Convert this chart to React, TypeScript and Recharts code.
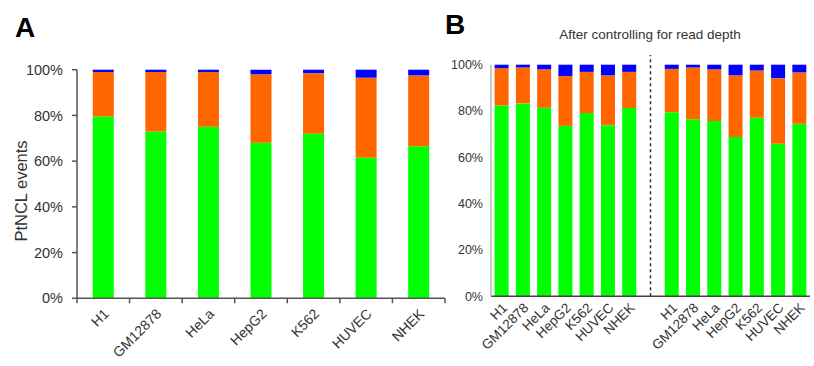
import React from 'react';
import { BarChart, Bar, XAxis, YAxis, ReferenceLine } from 'recharts';

// ---- data ----
const cellLines = ['H1', 'GM12878', 'HeLa', 'HepG2', 'K562', 'HUVEC', 'NHEK'];
const yTicks = [0, 20, 40, 60, 80, 100];

// Panel A
const aGreen = [79.5, 73, 75, 68, 72, 61.5, 66.5];
const aOrange = [19.5, 26, 24, 30, 26.5, 35, 31];
const aBlue = [1, 1, 1, 2, 1.5, 3.5, 2.5];

// Panel B, left group
const b1Green = [82.4, 83.3, 81.4, 73.6, 79.1, 73.9, 81.3];
const b1Orange = [16.1, 15.5, 16.6, 21.5, 17.8, 21.5, 15.6];
const b1Blue = [1.5, 1.2, 2.0, 4.9, 3.1, 4.6, 3.1];

// Panel B, right group
const b2Green = [79.5, 76.5, 75.7, 68.8, 77.1, 65.9, 74.5];
const b2Orange = [18.7, 22.3, 22.3, 26.6, 20.4, 28.3, 22.2];
const b2Blue = [1.8, 1.2, 2.0, 4.6, 2.5, 5.8, 3.3];

const panelTitle = 'After controlling for read depth';
const yLabel = 'PtNCL events';

// ---- tables ----
const dataA = cellLines.map((c, i) => ({ id: c, green: aGreen[i], orange: aOrange[i], blue: aBlue[i] }));
const dataB = [
  ...cellLines.map((c, i) => ({ id: c + '|1', green: b1Green[i], orange: b1Orange[i], blue: b1Blue[i] })),
  { id: 'gap', green: null, orange: null, blue: null },
  ...cellLines.map((c, i) => ({ id: c + '|2', green: b2Green[i], orange: b2Orange[i], blue: b2Blue[i] })),
];

const GREEN = '#00ff00';
const ORANGE = '#ff6600';
const BLUE = '#0000ff';
const TXT = '#333333';
const FONT = '"Liberation Sans", Arial, sans-serif';

// panel A geometry (layout only)
const A_W = 450, A_H = 366;
const A_M = { top: 69.7, right: 5, bottom: 7.7, left: 17 };
const A_YW = 60;
const A_BAND = (A_W - A_M.left - A_M.right - A_YW) / cellLines.length;

const TickA = (props: any) => {
  const { x, y, payload, index } = props;
  const last = index === cellLines.length - 1;
  return (
    <g>
      <line x1={x - A_BAND / 2} x2={x - A_BAND / 2} y1={y} y2={y + 5} stroke="#555" strokeWidth={1.5} />
      {last && <line x1={x + A_BAND / 2} x2={x + A_BAND / 2} y1={y} y2={y + 5} stroke="#555" strokeWidth={1.5} />}
      <g transform={`translate(${x + 3},${y + 13})`}>
        <text textAnchor="end" transform="rotate(-45)" fontSize={14} fill={TXT} dy="0.35em" fontFamily={FONT}>
          {payload.value}
        </text>
      </g>
    </g>
  );
};

const TickB = (props: any) => {
  const { x, y, payload } = props;
  const label = payload.value === 'gap' ? '' : String(payload.value).split('|')[0];
  return (
    <g transform={`translate(${x + 3},${y + 9})`}>
      <text textAnchor="end" transform="rotate(-45)" fontSize={13.5} fill={TXT} dy="0.35em" fontFamily={FONT}>
        {label}
      </text>
    </g>
  );
};

const pct = (v: number) => `${v}%`;

export default function App() {
  return (
    <div style={{ position: 'absolute', left: 0, top: 0, width: 814, height: 366, background: '#fff', fontFamily: FONT, overflow: 'hidden' }}>
      <div style={{ position: 'absolute', left: 0, top: 0 }}>
        <BarChart width={A_W} height={A_H} data={dataA} margin={A_M} barCategoryGap="30%">
          <XAxis
            dataKey="id"
            height={60}
            tickLine={false}
            tickSize={0}
            tickMargin={0}
            interval={0}
            axisLine={{ stroke: '#555', strokeWidth: 1.5 }}
            tick={<TickA />}
          />
          <YAxis
            width={A_YW}
            domain={[0, 100]}
            ticks={yTicks}
            tickFormatter={pct}
            tickSize={5}
            tickMargin={9}
            axisLine={{ stroke: '#555', strokeWidth: 1.5 }}
            tickLine={{ stroke: '#555', strokeWidth: 1.5 }}
            tick={{ fill: TXT, fontSize: 14.5 }}
          />
          <Bar dataKey="green" stackId="s" fill={GREEN} isAnimationActive={false} />
          <Bar dataKey="orange" stackId="s" fill={ORANGE} isAnimationActive={false} />
          <Bar dataKey="blue" stackId="s" fill={BLUE} isAnimationActive={false} />
        </BarChart>
      </div>
      <div style={{ position: 'absolute', left: 440, top: 0 }}>
        <BarChart width={374} height={366} data={dataB} margin={{ top: 64.7, right: 4, bottom: 9.7, left: 0 }} barCategoryGap="17%">
          <XAxis
            dataKey="id"
            height={60}
            tickLine={false}
            tickSize={0}
            tickMargin={0}
            interval={0}
            axisLine={{ stroke: '#444', strokeWidth: 1.5 }}
            tick={<TickB />}
          />
          <YAxis
            width={51}
            domain={[0, 100]}
            ticks={yTicks}
            tickFormatter={pct}
            tickSize={0}
            tickMargin={8}
            tickLine={false}
            axisLine={{ stroke: '#bbb', strokeWidth: 1.5 }}
            tick={{ fill: TXT, fontSize: 12.5 }}
          />
          <Bar dataKey="green" stackId="s" fill={GREEN} isAnimationActive={false} />
          <Bar dataKey="orange" stackId="s" fill={ORANGE} isAnimationActive={false} />
          <Bar dataKey="blue" stackId="s" fill={BLUE} isAnimationActive={false} />
          <ReferenceLine
            segment={[{ x: 'gap', y: 0 }, { x: 'gap', y: 104.2 }]}
            ifOverflow="visible"
            stroke="#333"
            strokeWidth={1.5}
            strokeDasharray="3 3"
          />
        </BarChart>
      </div>
      <div style={{ position: 'absolute', left: 15, top: 14.4, fontSize: 28, fontWeight: 'bold', lineHeight: 1, color: '#000' }}>A</div>
      <div style={{ position: 'absolute', left: 445, top: 11.4, fontSize: 28, fontWeight: 'bold', lineHeight: 1, color: '#000' }}>B</div>
      <div style={{ position: 'absolute', left: 650, top: 28.3, transform: 'translateX(-50%)', fontSize: 13.5, lineHeight: 1, color: TXT, whiteSpace: 'nowrap' }}>
        {panelTitle}
      </div>
      <div style={{ position: 'absolute', left: 21, top: 191, transform: 'translate(-50%, -50%) rotate(-90deg)', fontSize: 16.5, lineHeight: 1, color: TXT, whiteSpace: 'nowrap' }}>
        {yLabel}
      </div>
    </div>
  );
}
